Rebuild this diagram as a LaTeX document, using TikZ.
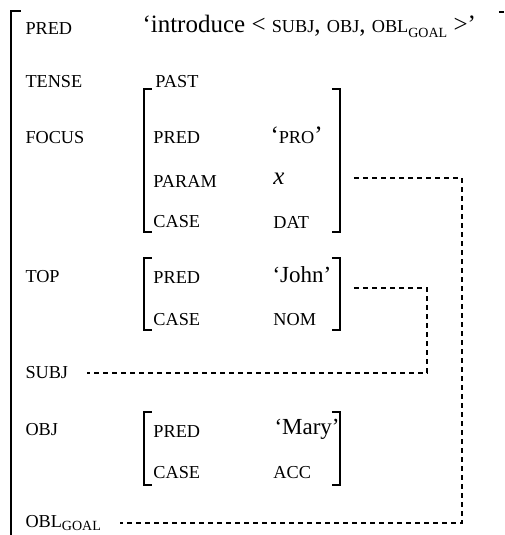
\documentclass[tikz,border=0pt]{standalone}
\usepackage{fontspec}
\setmainfont{Liberation Serif}
\usepackage{tikz}

% small capital feature names
\newcommand{\feat}[1]{{\fontsize{7.3}{8}\selectfont #1}}
\newcommand{\goalsub}{\raisebox{-0.45ex}{\fontsize{5.6}{6}\selectfont GOAL}}

\begin{document}
\begin{tikzpicture}[x=0.4pt,y=-0.4pt,
    font=\fontsize{10}{12}\selectfont,
    attr/.style={anchor=west, inner sep=0pt, font=\fontsize{7.3}{8}\selectfont},
    val/.style={anchor=west, inner sep=0pt},
    propname/.style={anchor=west, inner sep=0pt, font=\fontsize{9.2}{10}\selectfont},
    avm/.style={line width=0.6pt},
    link/.style={dashed, dash pattern=on 2pt off 1.6pt, line width=0.55pt}]
    \useasboundingbox (0,0) rectangle (505,535);

    % outer f-structure bracket
    \draw[avm] (21,11) -- (11,11) -- (11,535);
    \draw[avm] (499,12) -- (504,12);

    % top level attributes
    \node [attr] (pred) at (25,29) {PRED};
    \node [val] (predv) at (142,26) {`introduce < \feat{SUBJ}, \feat{OBJ}, \feat{OBL}\goalsub{} >'};
    \node [attr] (tense) at (25,82) {TENSE};
    \node [attr] (past) at (155,82) {PAST};
    \node [attr] (focus) at (25,138) {FOCUS};
    \node [attr] (top) at (25,277) {TOP};
    \node [attr] (subj) at (25,373) {SUBJ};
    \node [attr] (obj) at (25,430) {OBJ};
    \node [attr] (obl) at (25,523) {OBL\goalsub};

    % focus
    \draw[avm] (152,89) -- (144,89) -- (144,232) -- (152,232);
    \draw[avm] (332,89) -- (340,89) -- (340,232) -- (332,232);
    \node [attr] (fpred) at (153,138) {PRED};
    \node [val] (fpredv) at (270,135) {`\feat{PRO}'};
    \node [attr] (fparam) at (153,181) {PARAM};
    \node [val] (fparamv) at (273,179) {\textit{x}};
    \node [attr] (fcase) at (153,222) {CASE};
    \node [attr] (fcasev) at (273,222) {DAT};

    % top
    \draw[avm] (152,258) -- (144,258) -- (144,330) -- (152,330);
    \draw[avm] (332,258) -- (340,258) -- (340,330) -- (332,330);
    \node [attr] (tpred) at (153,278) {PRED};
    \node [propname] (tpredv) at (272,275) {`John'};
    \node [attr] (tcase) at (153,320) {CASE};
    \node [attr] (tcasev) at (273,320) {NOM};

    % obj
    \draw[avm] (152,412) -- (144,412) -- (144,485) -- (152,485);
    \draw[avm] (332,412) -- (340,412) -- (340,485) -- (332,485);
    \node [attr] (opred) at (153,432) {PRED};
    \node [propname] (opredv) at (274,429) {`Mary'};
    \node [attr] (ocase) at (153,473) {CASE};
    \node [attr] (ocasev) at (273,473) {ACC};

    % structure sharing
    \coordinate (focusend) at (354,178);
    \coordinate (focusturn) at (462,178);
    \coordinate (oblend) at (120,523);
    \coordinate (topend) at (354,288);
    \coordinate (topturn) at (427,288);
    \coordinate (subjend) at (87,373);
    \draw[link] (focusend) -- (focusturn) |- (oblend);
    \draw[link] (topend) -- (topturn) |- (subjend);
\end{tikzpicture}
\end{document}
